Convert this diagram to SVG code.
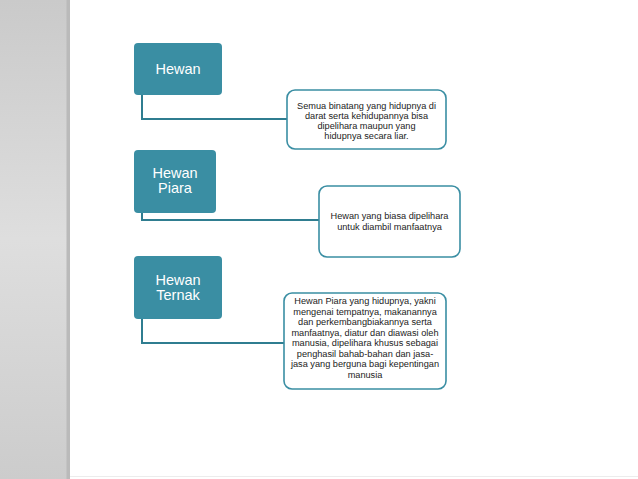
<svg xmlns="http://www.w3.org/2000/svg" width="638" height="479" viewBox="0 0 638 479">
<defs>
<linearGradient id="panel" x1="0" y1="0" x2="0" y2="1">
<stop offset="0" stop-color="#cacaca"/>
<stop offset="0.5" stop-color="#dedede"/>
<stop offset="1" stop-color="#cccccc"/>
</linearGradient>
</defs>
<style>
.head{fill:#3a8ea3}
.ht{font-family:"Liberation Sans",Arial,sans-serif;font-size:14.5px;fill:#ffffff;text-anchor:middle}
.desc{fill:#ffffff;stroke:#3a8ea3;stroke-width:1.6}
.dt{font-family:"Liberation Sans",Arial,sans-serif;font-size:9.2px;fill:#222222;text-anchor:middle}
.con{fill:none;stroke:#2f7d90;stroke-width:2}
</style>
<rect x="0" y="0" width="638" height="479" fill="#ffffff"/>
<rect x="0" y="0" width="70" height="479" fill="url(#panel)"/>
<rect x="66.5" y="0" width="3.5" height="479" fill="#bababa"/>
<rect x="70" y="476" width="568" height="1" fill="#ececec"/>
<g id="connectors">
<path class="con" d="M142 95 V119 H287"/>
<path class="con" d="M142 213 V220 H319"/>
<path class="con" d="M142 319 V343 H284"/>
</g>
<g id="hewan">
<rect class="head" x="134" y="43" width="88" height="52" rx="4"/>
<text class="ht" x="178" y="74">Hewan</text>
</g>
<g id="desc-hewan">
<rect class="desc" x="287" y="90" width="159" height="59" rx="8"/>
<text class="dt" x="366.5" y="109">Semua binatang yang hidupnya di</text>
<text class="dt" x="366.5" y="119">darat serta kehidupannya bisa</text>
<text class="dt" x="366.5" y="129">dipelihara maupun yang</text>
<text class="dt" x="366.5" y="138.5">hidupnya secara liar.</text>
</g>
<g id="hewan-piara">
<rect class="head" x="134" y="150" width="82" height="63" rx="4"/>
<text class="ht" x="175" y="178">Hewan</text>
<text class="ht" x="175" y="193">Piara</text>
</g>
<g id="desc-piara">
<rect class="desc" x="319" y="186" width="141" height="71" rx="8"/>
<text class="dt" x="389.5" y="219">Hewan yang biasa dipelihara</text>
<text class="dt" x="389.5" y="230">untuk diambil manfaatnya</text>
</g>
<g id="hewan-ternak">
<rect class="head" x="134" y="256" width="88" height="63" rx="4"/>
<text class="ht" x="178" y="285">Hewan</text>
<text class="ht" x="178" y="300">Ternak</text>
</g>
<g id="desc-ternak">
<rect class="desc" x="284" y="293" width="162" height="96" rx="8"/>
<text class="dt" x="365" y="304">Hewan Piara yang hidupnya, yakni</text>
<text class="dt" x="365" y="314.5">mengenai tempatnya, makanannya</text>
<text class="dt" x="365" y="325">dan perkembangbiakannya serta</text>
<text class="dt" x="365" y="335.5">manfaatnya, diatur dan diawasi oleh</text>
<text class="dt" x="365" y="346">manusia, dipelihara khusus sebagai</text>
<text class="dt" x="365" y="356.5">penghasil bahab-bahan dan jasa-</text>
<text class="dt" x="365" y="367">jasa yang berguna bagi kepentingan</text>
<text class="dt" x="365" y="377.5">manusia</text>
</g>
</svg>
